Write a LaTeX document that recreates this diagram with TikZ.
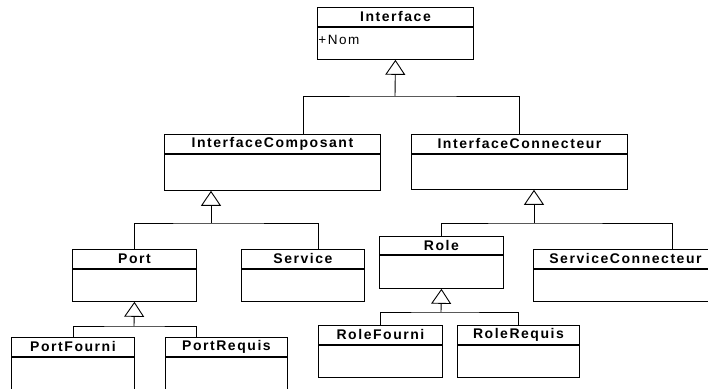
\documentclass[tikz,border=0pt]{standalone}
\usepackage{fontspec}
\setmainfont{Liberation Sans}[LetterSpace=11]
\usetikzlibrary{positioning,arrows.meta}

\begin{document}
\begin{tikzpicture}[x=1pt, y=-1pt, line width=0.9pt,
    titre/.style={draw, inner sep=0pt, minimum height=19pt,
      font=\fontsize{14}{16}\selectfont\bfseries},
    corps/.style={draw, inner sep=0pt, below=0pt of #1},
    attr/.style={inner sep=0pt, font=\fontsize{13.5}{15}\selectfont},
    herite/.style={-{Triangle[open, width=20pt, length=15pt]}}]

        \clip (0,0) rectangle (708,388);

        \begin{scope}[every node/.style={titre, anchor=north west}]
          \node[minimum width=156pt] (interface) at (317,7)   {Interface};
          \node[minimum width=216pt] (compo)     at (164,134) {InterfaceComposant};
          \node[minimum width=216pt] (connect)   at (411,134) {InterfaceConnecteur};
          \node[minimum width=124pt] (port)      at (72,249)  {Port};
          \node[minimum width=123pt] (service)   at (241,249) {Service};
          \node[minimum width=124pt, minimum height=18pt] (role) at (379,236) {Role};
          \node[minimum width=184pt] (servconn)  at (533,249) {ServiceConnecteur};
          \node[minimum width=123pt] (pfourni)   at (11,337)  {PortFourni};
          \node[minimum width=122pt] (prequis)   at (165,337) {PortRequis};
          \node[minimum width=124pt] (rfourni)   at (318,325) {RoleFourni};
          \node[minimum width=122pt] (rrequis)   at (457,325) {RoleRequis};
        \end{scope}

        \node[corps=interface, minimum width=156pt, minimum height=32pt] (interface-b) {};
        \node[corps=compo,     minimum width=216pt, minimum height=36pt] (compo-b)     {};
        \node[corps=connect,   minimum width=216pt, minimum height=35pt] (connect-b)   {};
        \node[corps=port,      minimum width=124pt, minimum height=32pt] (port-b)      {};
        \node[corps=service,   minimum width=123pt, minimum height=32pt] (service-b)   {};
        \node[corps=role,      minimum width=124pt, minimum height=33pt] (role-b)      {};
        \node[corps=servconn,  minimum width=184pt, minimum height=32pt] (servconn-b)  {};
        \node[corps=pfourni,   minimum width=123pt, minimum height=50pt] (pfourni-b)   {};
        \node[corps=prequis,   minimum width=122pt, minimum height=50pt] (prequis-b)   {};
        \node[corps=rfourni,   minimum width=124pt, minimum height=32pt] (rfourni-b)   {};
        \node[corps=rrequis,   minimum width=122pt, minimum height=32pt] (rrequis-b)   {};

        \node[attr, anchor=north west] (nom) at ([xshift=1pt, yshift=-8pt]interface-b.north west) {+Nom};

        \coordinate (j0) at (395,96);
        \coordinate (j1) at (211,223);
        \coordinate (j2) at (534,223);
        \coordinate (j3) at (134,326);
        \coordinate (j4) at (441,312);

        \draw[herite] (j0) -- (interface-b.south);
        \draw ([xshift=31pt]compo.north) |- (j0) -| (connect.north);

        \draw[herite] (j1) -- (j1 |- compo-b.south);
        \draw (port.north) |- (j1) -| ([xshift=15.5pt]service.north);

        \draw[herite] (j2) -- (j2 |- connect-b.south);
        \draw (role.north) |- (j2) -| ([xshift=47pt]servconn.north);

        \draw[herite] (j3) -- (port-b.south);
        \draw (pfourni.north) |- (j3) -| ([xshift=-30pt]prequis.north);

        \draw[herite] (j4) -- (role-b.south);
        \draw (rfourni.north) |- (j4) -| (rrequis.north);

      \end{tikzpicture}
\end{document}
